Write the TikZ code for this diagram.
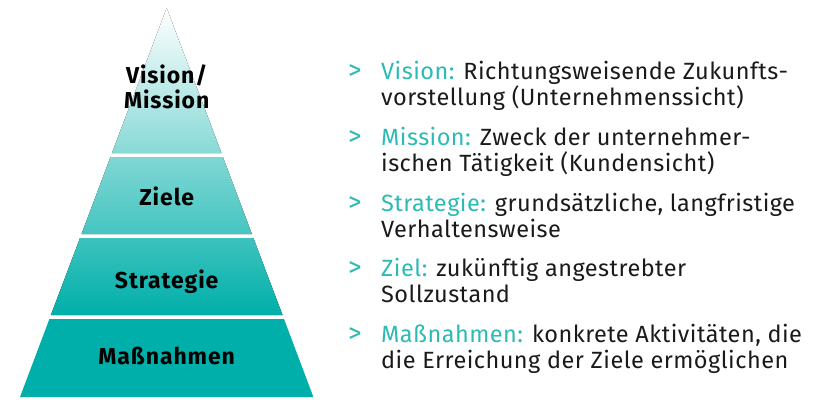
\documentclass[tikz,border=0pt]{standalone}
\usepackage{fontspec}
\setmainfont{Fira Sans}[LetterSpace=2]
\newfontfamily\labelfont{Fira Sans}[LetterSpace=4]
\definecolor{tealbase}{HTML}{00AFA9}
\definecolor{tealtext}{HTML}{2CBAB5}
\definecolor{txt}{HTML}{1A1A1A}
\tikzset{
  plabel/.style={anchor=base, inner sep=0pt, font=\labelfont\fontsize{23}{25}\selectfont\bfseries, text=black},
  itemline/.style={anchor=base west, inner sep=0pt, font=\fontsize{23.5}{26}\selectfont, text=txt},
  marker/.style={anchor=base west, inner sep=0pt, font=\fontsize{27}{26}\selectfont, text=tealtext},
}
\newcommand{\hl}[1]{\textcolor{tealtext}{#1}}
\begin{document}
\begin{tikzpicture}[x=1pt,y=-1pt]
\useasboundingbox (0,0) rectangle (823,405);
% pyramid layers
\fill[top color=white, bottom color=tealbase!47!white] (166.7,8) -- (221.4,153) -- (112.0,153) -- cycle;
\fill[top color=tealbase!50!white, bottom color=tealbase!73!white] (110.5,157) -- (222.9,157) -- (251.9,234) -- (81.5,234) -- cycle;
\fill[top color=tealbase!76!white, bottom color=tealbase] (80.0,238) -- (253.4,238) -- (282.5,315) -- (50.9,315) -- cycle;
\fill[tealbase] (49.4,319) -- (284.0,319) -- (313.4,397) -- (20.0,397) -- cycle;
% pyramid labels
\node[plabel] (pv) at (166.7,83) {Vision/};
\node[plabel] (pm) at (166.7,108) {Mission};
\node[plabel] (pz) at (166.7,205.5) {Ziele};
\node[plabel] (ps) at (166.7,288) {Strategie};
\node[plabel] (pn) at (166.7,364) {Maßnahmen};
% list
\node[marker] (m1) at (348,79) {>};
\node[itemline] (a1) at (381,79) {\hl{Vision:} Richtungsweisende Zukunfts-};
\node[itemline] (b1) at (381,105) {vorstellung (Unternehmenssicht)};
\node[marker] (m2) at (348,145) {>};
\node[itemline] (a2) at (381,145) {\hl{Mission:} Zweck der unternehmer-};
\node[itemline] (b2) at (381,171) {ischen Tätigkeit (Kundensicht)};
\node[marker] (m3) at (348,211) {>};
\node[itemline] (a3) at (381,211) {\hl{Strategie:} grundsätzliche, langfristige};
\node[itemline] (b3) at (381,237) {Verhaltensweise};
\node[marker] (m4) at (348,276) {>};
\node[itemline] (a4) at (381,276) {\hl{Ziel:} zukünftig angestrebter};
\node[itemline] (b4) at (381,302) {Sollzustand};
\node[marker] (m5) at (348,342) {>};
\node[itemline] (a5) at (381,342) {\hl{Maßnahmen:} konkrete Aktivitäten, die};
\node[itemline] (b5) at (381,368) {die Erreichung der Ziele ermöglichen};
\end{tikzpicture}
\end{document}
